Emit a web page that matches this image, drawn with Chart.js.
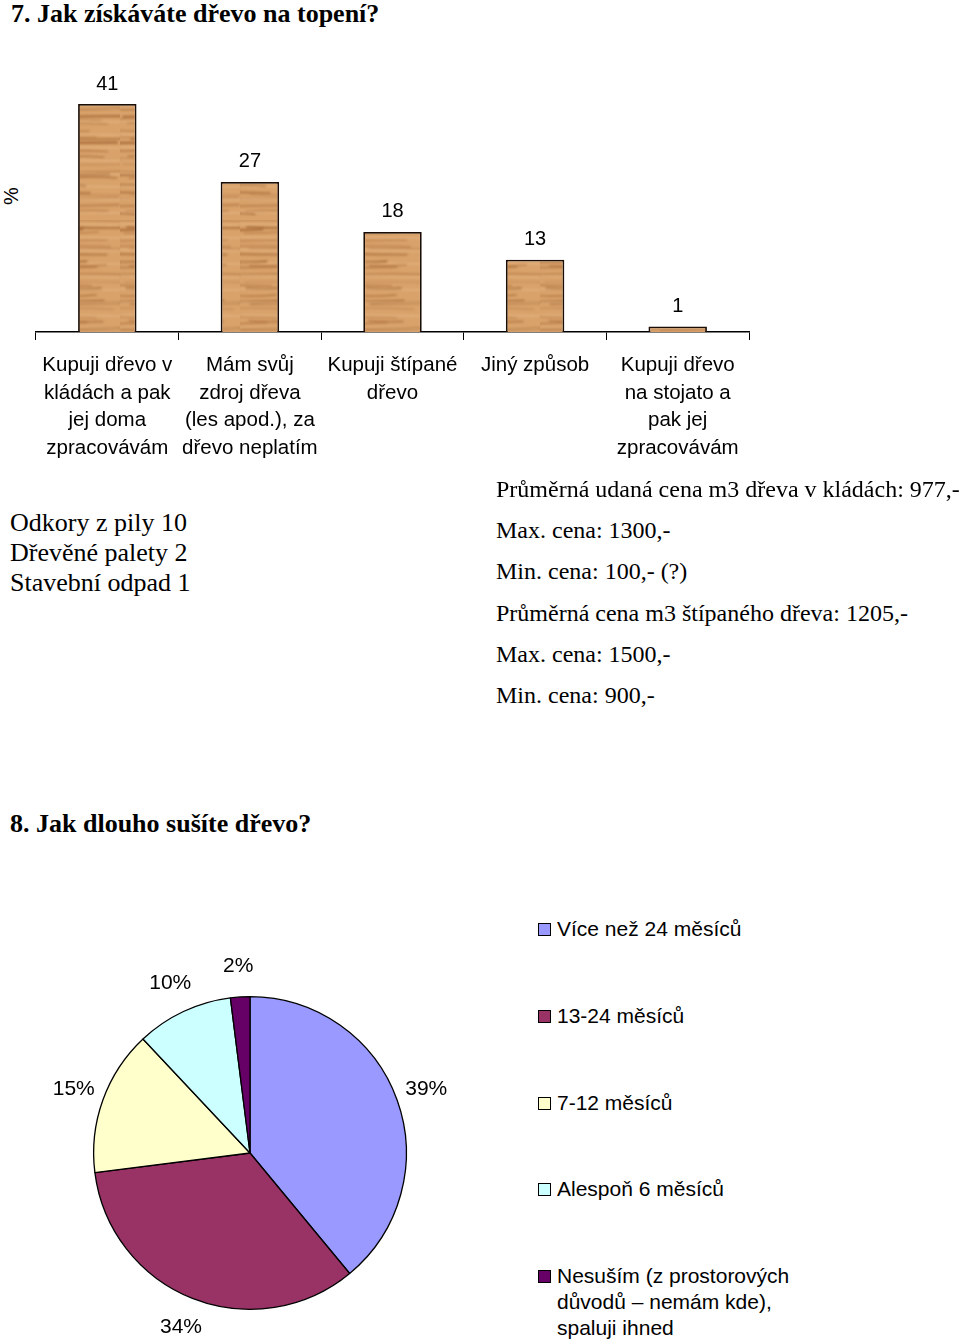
<!DOCTYPE html>
<html lang="cs">
<head>
<meta charset="utf-8">
<script src="https://cdn.jsdelivr.net/npm/chart.js@4.4.1/dist/chart.umd.min.js"></script>
<style>
  html, body { margin: 0; padding: 0; background: #fff; }
  body {
    width: 960px; height: 1340px; position: relative; overflow: hidden;
    font-family: "Liberation Serif", "Times New Roman", serif; color: #000;
  }
  .abs { position: absolute; white-space: nowrap; }
  .title { font-weight: bold; font-size: 26px; line-height: 30px; }
  .note { font-size: 26px; line-height: 30px; }
  .price { font-size: 24px; line-height: 30px; }
  .sans { font-family: "Liberation Sans", Arial, sans-serif; }
  #barWrap { position: absolute; left: 0; top: 0; width: 760px; height: 480px; }
  #pieWrap { position: absolute; left: 50px; top: 953px; width: 400px; height: 400px; }
  .legend { font-size: 21px; line-height: 26px; left: 557px; }
  .swatch { position: absolute; left: 538px; width: 11px; height: 11px; border: 1px solid #000; }
  #pctLabel { left: 2px; top: 184px; font-size: 20px; line-height: 24px; transform: rotate(-90deg); }
</style>
</head>
<body>

<div class="abs title" style="left:11px; top:-1px;">7. Jak získáváte dřevo na topení?</div>
<div class="abs sans" id="pctLabel">%</div>

<div id="barWrap"><canvas id="barChart"></canvas></div>

<div id="notes"></div>
<div id="prices"></div>

<div class="abs title" style="left:10px; top:809px;">8. Jak dlouho sušíte dřevo?</div>

<div id="pieWrap"><canvas id="pieChart"></canvas></div>
<div id="pieLegend"></div>

<script>
// 7. how firewood is obtained (%)
const categories = [
  ["Kupuji dřevo v", "kládách a pak", "jej doma", "zpracovávám"],
  ["Mám svůj", "zdroj dřeva", "(les apod.), za", "dřevo neplatím"],
  ["Kupuji štípané", "dřevo"],
  ["Jiný způsob"],
  ["Kupuji dřevo", "na stojato a", "pak jej", "zpracovávám"]
];
const shares = [41, 27, 18, 13, 1];

const otherSources = ["Odkory z pily 10", "Dřevěné palety 2", "Stavební odpad 1"];
const priceNotes = [
  "Průměrná udaná cena m3 dřeva v kládách: 977,-",
  "Max. cena: 1300,-",
  "Min. cena: 100,- (?)",
  "Průměrná cena m3 štípaného dřeva: 1205,-",
  "Max. cena: 1500,-",
  "Min. cena: 900,-"
];

// 8. how long wood is dried (%)
const dryingLabels = [
  ["Více než 24 měsíců"],
  ["13-24 měsíců"],
  ["7-12 měsíců"],
  ["Alespoň 6 měsíců"],
  ["Nesuším (z prostorových", "důvodů – nemám kde),", "spaluji ihned"]
];
const dryingShares = [39, 34, 15, 10, 2];
const dryingColors = ["#9999FF", "#993366", "#FFFFCC", "#CCFFFF", "#660066"];

/** Text blocks */
const notesBox = document.getElementById("notes");
otherSources.forEach((line, i) => {
  const el = document.createElement("div");
  el.className = "abs note";
  el.style.left = "10px";
  el.style.top = (508 + i * 30) + "px";
  el.textContent = line;
  notesBox.appendChild(el);
});

const pricesBox = document.getElementById("prices");
priceNotes.forEach((line, i) => {
  const el = document.createElement("div");
  el.className = "abs price";
  el.style.left = "496px";
  el.style.top = (474 + i * 41.2) + "px";
  el.textContent = line;
  pricesBox.appendChild(el);
});

/** Wood texture for the bars */
function woodPattern() {
  const c = document.createElement("canvas");
  c.width = 60;
  c.height = 220;
  const g = c.getContext("2d");
  g.fillStyle = "#d9a26b";
  g.fillRect(0, 0, c.width, c.height);
  g.filter = "blur(0.8px)";
  // soft darker grain streaks of varying length
  for (let k = 0; k < 44; k++) {
    const y = k * 5 + 2 * Math.sin(k * 1.7);
    const x0 = 30 * (0.5 + 0.5 * Math.sin(k * 2.3)) - 20;
    const len = 35 + 40 * (0.5 + 0.5 * Math.cos(k * 1.1));
    const a = 0.25 + 0.4 * (0.5 + 0.5 * Math.sin(k * 0.9 + 0.4));
    g.strokeStyle = `rgba(150, 88, 38, ${a.toFixed(3)})`;
    g.lineWidth = 1.2 + (k % 3) * 0.6;
    g.beginPath();
    g.moveTo(x0, y);
    g.quadraticCurveTo(x0 + len / 2, y + Math.sin(k) * 1.5, x0 + len, y + Math.cos(k) * 1.2);
    g.stroke();
  }
  // light streaks
  for (let k = 0; k < 17; k++) {
    const y = k * 13 + 4;
    g.strokeStyle = "rgba(238, 196, 145, 0.4)";
    g.lineWidth = 2;
    g.beginPath();
    g.moveTo(0, y);
    g.lineTo(c.width, y + 1);
    g.stroke();
  }
  return g.createPattern(c, "repeat");
}

/** Value labels above bars */
const barValueLabels = {
  id: "barValueLabels",
  afterDatasetsDraw(chart) {
    const ctx = chart.ctx;
    const meta = chart.getDatasetMeta(0);
    ctx.save();
    ctx.font = '20px "Liberation Sans", Arial, sans-serif';
    ctx.fillStyle = "#000";
    ctx.textAlign = "center";
    ctx.textBaseline = "middle";
    meta.data.forEach((bar, i) => {
      ctx.fillText(String(shares[i]), bar.x, bar.y - 20);
    });
    ctx.restore();
  }
};

new Chart(document.getElementById("barChart"), {
  type: "bar",
  data: {
    labels: categories,
    datasets: [{
      data: shares,
      backgroundColor: woodPattern(),
      borderColor: "#1a0d05",
      borderWidth: 1.8,
      borderSkipped: "bottom",
      categoryPercentage: 1,
      barPercentage: 0.41
    }]
  },
  options: {
    responsive: true,
    maintainAspectRatio: false,
    animation: false,
    layout: { padding: { top: 54, left: 36, right: 11, bottom: 0 } },
    plugins: { legend: { display: false }, tooltip: { enabled: false } },
    scales: {
      x: {
        grid: {
          display: true,
          drawOnChartArea: false,
          offset: true,
          color: "#000",
          tickColor: "#000",
          tickLength: 8
        },
        border: { display: true, color: "#000", width: 1.5 },
        ticks: {
          color: "#000",
          font: { family: '"Liberation Sans", Arial, sans-serif', size: 20.5, lineHeight: 1.34 },
          padding: 12,
          maxRotation: 0,
          autoSkip: false
        },
        afterFit(scale) { scale.height = 148; }
      },
      y: { display: false, min: 0, max: 50 }
    }
  },
  plugins: [barValueLabels]
});

/** Percent labels around the pie */
const pieLabels = {
  id: "pieLabels",
  afterDatasetsDraw(chart) {
    const ctx = chart.ctx;
    const meta = chart.getDatasetMeta(0);
    ctx.save();
    ctx.font = '21px "Liberation Sans", Arial, sans-serif';
    ctx.fillStyle = "#000";
    ctx.textAlign = "center";
    ctx.textBaseline = "middle";
    meta.data.forEach((arc, i) => {
      const mid = (arc.startAngle + arc.endAngle) / 2;
      const r = arc.outerRadius + 31;
      ctx.fillText(dryingShares[i] + "%", arc.x + Math.cos(mid) * r, arc.y + Math.sin(mid) * r);
    });
    ctx.restore();
  }
};

new Chart(document.getElementById("pieChart"), {
  type: "pie",
  data: {
    labels: dryingLabels.map((l) => l.join(" ")),
    datasets: [{
      data: dryingShares,
      backgroundColor: dryingColors,
      borderColor: "#000",
      borderWidth: 1.3
    }]
  },
  options: {
    responsive: true,
    maintainAspectRatio: false,
    animation: false,
    layout: { padding: 43 },
    plugins: { legend: { display: false }, tooltip: { enabled: false } }
  },
  plugins: [pieLabels]
});

/** Legend for the pie */
const legendBox = document.getElementById("pieLegend");
dryingLabels.forEach((lines, i) => {
  const cy = 929 + i * 86.75;
  const sw = document.createElement("div");
  sw.className = "swatch";
  sw.style.top = (cy - 6) + "px";
  sw.style.background = dryingColors[i];
  legendBox.appendChild(sw);

  lines.forEach((line, j) => {
    const el = document.createElement("div");
    el.className = "abs sans legend";
    el.style.top = (cy - 13 + j * 26) + "px";
    el.textContent = line;
    legendBox.appendChild(el);
  });
});
</script>
</body>
</html>
